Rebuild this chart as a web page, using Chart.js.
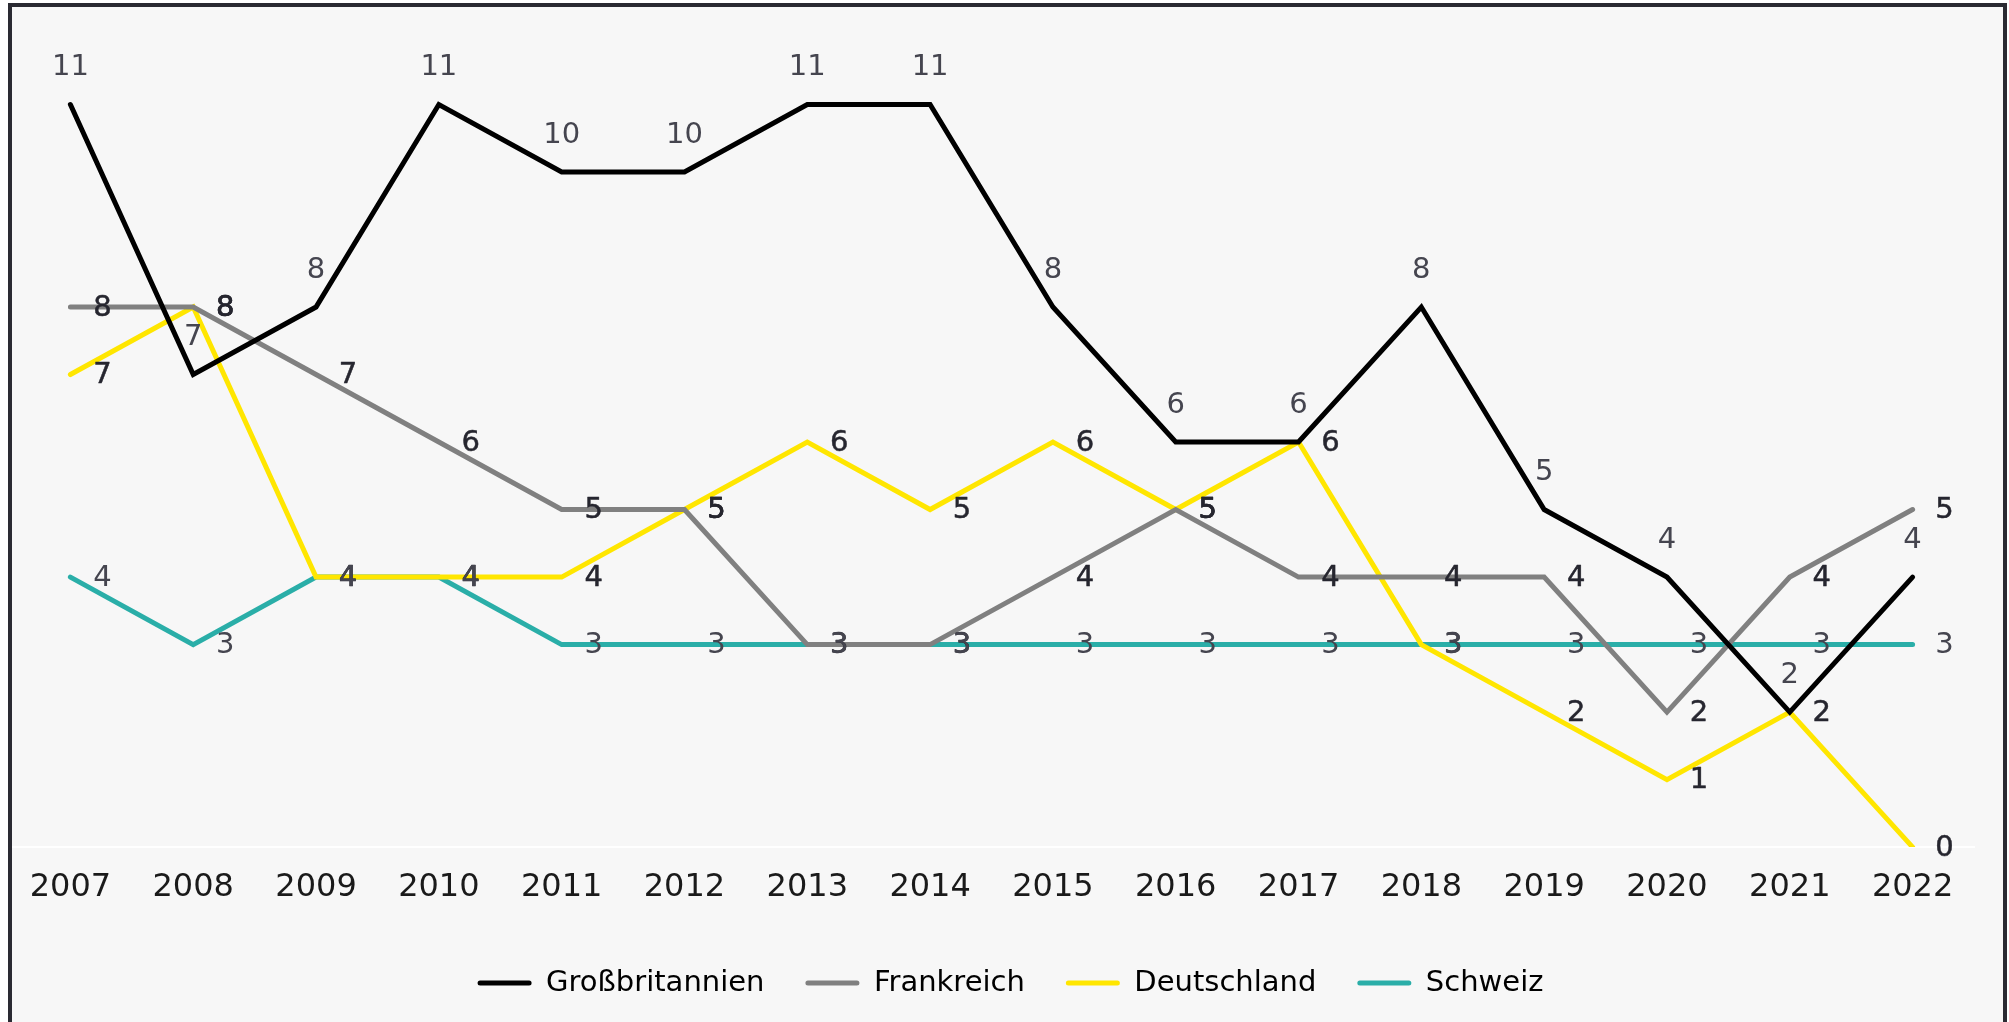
<!DOCTYPE html>
<html>
<head>
<meta charset="utf-8">
<script src="https://cdn.jsdelivr.net/npm/chart.js@4.4.0/dist/chart.umd.min.js"></script>
<style>
  html, body { margin: 0; padding: 0; background: #ffffff; }
  #wrap { position: absolute; left: 0; top: 0; width: 2009px; height: 1022px; }
</style>
</head>
<body>
<div id="wrap"><canvas id="c" width="2009" height="1022"></canvas></div>
<script>
const years = ['2007','2008','2009','2010','2011','2012','2013','2014','2015','2016','2017','2018','2019','2020','2021','2022'];
const grossbritannien = [11, 7, 8, 11, 10, 10, 11, 11, 8, 6, 6, 8, 5, 4, 2, 4];
const frankreich      = [8, 8, 7, 6, 5, 5, 3, 3, 4, 5, 4, 4, 4, 2, 4, 5];
const deutschland     = [7, 8, 4, 4, 4, 5, 6, 5, 6, 5, 6, 3, 2, 1, 2, 0];
const schweiz         = [4, 3, 4, 4, 3, 3, 3, 3, 3, 3, 3, 3, 3, 3, 3, 3];
const seriesNames = ['Großbritannien', 'Frankreich', 'Deutschland', 'Schweiz'];
const seriesColors = ['#000000', '#808080', '#ffe600', '#2aaea8'];

const FONT = '"DejaVu Sans", "Noto Sans", sans-serif';
const FS = 29;
const TICK_FS = 32;

const labelStyles = [
  {pos: 'above', stroke: 0,   color: '#45454f'},
  {pos: 'right', stroke: 0.5, color: '#26262f'},
  {pos: 'right', stroke: 0.5, color: '#26262f'},
  {pos: 'right', stroke: 0,   color: '#45454f'}
];

const framePlugin = {
  id: 'frame',
  beforeDraw(chart) {
    const ctx = chart.ctx;
    ctx.save();
    ctx.fillStyle = '#ffffff';
    ctx.fillRect(0, 0, chart.width, chart.height);
    ctx.fillStyle = '#f7f7f7';
    ctx.fillRect(9, 5, 2005 - 9, chart.height - 5);
    ctx.restore();
  },
  afterDraw(chart) {
    const ctx = chart.ctx;
    ctx.save();
    ctx.strokeStyle = '#2a2a32';
    ctx.lineWidth = 4;
    ctx.beginPath();
    ctx.moveTo(10, chart.height + 5);
    ctx.lineTo(10, 5);
    ctx.lineTo(2005, 5);
    ctx.lineTo(2005, chart.height + 5);
    ctx.stroke();
    ctx.restore();
  }
};

const legendShiftPlugin = {
  id: 'legendShift',
  afterLayout(chart) {
    if (chart.legend) {
      chart.legend.left += 19;
      chart.legend.right += 19;
    }
  }
};

const valueLabelPlugin = {
  id: 'valueLabels',
  afterDatasetsDraw(chart) {
    const ctx = chart.ctx;
    ctx.save();
    chart.data.datasets.forEach((ds, di) => {
      const meta = chart.getDatasetMeta(di);
      const st = labelStyles[di];
      ctx.font = '400 ' + FS + 'px ' + FONT;
      ctx.fillStyle = st.color;
      ctx.strokeStyle = st.color;
      ctx.lineWidth = st.stroke;
      ctx.lineJoin = 'round';
      ctx.textBaseline = 'middle';
      ctx.textAlign = 'center';
      meta.data.forEach((pt, i) => {
        const v = ds.data[i];
        let x = pt.x, y = pt.y;
        if (st.pos === 'above') { y -= 37; }
        else { x += 32; y += 1; }
        ctx.fillText(String(v), x, y);
        if (st.stroke > 0) ctx.strokeText(String(v), x, y);
      });
    });
    ctx.restore();
  }
};

const dataSets = [grossbritannien, frankreich, deutschland, schweiz].map((arr, i) => ({
  label: seriesNames[i],
  data: arr,
  borderColor: seriesColors[i],
  backgroundColor: seriesColors[i],
  borderWidth: 5,
  pointRadius: 0,
  pointHoverRadius: 0,
  tension: 0,
  borderCapStyle: 'round',
  fill: false
}));

new Chart(document.getElementById('c'), {
  type: 'line',
  data: { labels: years, datasets: dataSets },
  options: {
    responsive: false,
    animation: false,
    devicePixelRatio: 1,
    layout: { padding: { left: 9, right: 35, top: 37, bottom: 14.5 } },
    scales: {
      x: {
        offset: true,
        grid: { display: false, drawTicks: false },
        border: { display: true, color: '#ffffff', width: 2 },
        ticks: {
          color: '#1a1a1a',
          font: { family: FONT, size: TICK_FS, lineHeight: 1.2 },
          padding: 21,
          autoSkip: false,
          maxRotation: 0
        }
      },
      y: {
        display: false,
        min: 0,
        max: 12
      }
    },
    plugins: {
      legend: {
        position: 'bottom',
        labels: {
          boxWidth: 54,
          boxHeight: 5,
          padding: 41,
          color: '#1a1a1a',
          font: { family: FONT, size: FS },
          generateLabels(chart) {
            return chart.data.datasets.map((ds, i) => ({
              text: ds.label,
              fillStyle: ds.borderColor,
              strokeStyle: ds.borderColor,
              lineWidth: 0,
              borderRadius: 2.5,
              datasetIndex: i,
              hidden: false
            }));
          }
        }
      },
      tooltip: { enabled: false }
    }
  },
  plugins: [framePlugin, legendShiftPlugin, valueLabelPlugin]
});
</script>
</body>
</html>
